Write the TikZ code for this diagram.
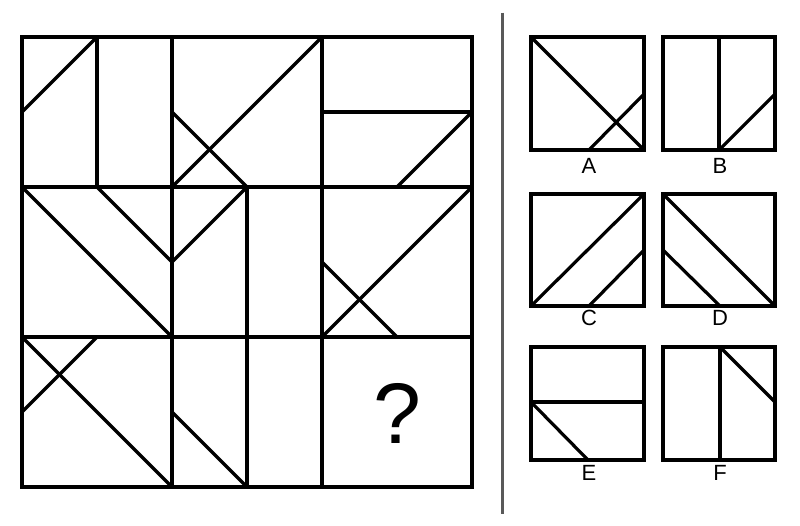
\documentclass[tikz,border=0pt]{standalone}
\usepackage{fontspec}
\setmainfont{Liberation Sans}
\begin{document}
\begin{tikzpicture}[x=1pt,y=-1pt,
  ln/.style={line width=3.2pt,black},
  sep/.style={line width=3pt,color=black!65},
  lbl/.style={inner sep=0pt,font=\fontsize{22}{22}\selectfont},
  qm/.style={inner sep=0pt,font=\fontsize{86}{86}\selectfont}]
\useasboundingbox (0,0) rectangle (800,525);
% main grid
\draw[ln] (22,37) rectangle (472,487);
\draw[ln] (172,37) -- (172,487) (322,37) -- (322,487);
\draw[ln] (22,187) -- (472,187) (22,337) -- (472,337);
% row 1
\draw[ln] (97,37) -- (22,112);
\draw[ln] (97,37) -- (97,187);
\draw[ln] (322,37) -- (172,187);
\draw[ln] (172,112) -- (247,187);
\draw[ln] (322,112) -- (472,112);
\draw[ln] (472,112) -- (397,187);
% row 2
\draw[ln] (22,187) -- (172,337);
\draw[ln] (97,187) -- (172,262) -- (247,187);
\draw[ln] (247,187) -- (247,487);
\draw[ln] (472,187) -- (322,337);
\draw[ln] (322,262) -- (397,337);
% row 3
\draw[ln] (22,337) -- (172,487);
\draw[ln] (97,337) -- (22,412);
\draw[ln] (172,412) -- (247,487);
\node[qm] (q) at (397,413) {?};
% separator
\coordinate (s1) at (502.5,12.5);
\coordinate (s2) at (502.5,514);
\draw[sep] (s1) -- (s2);
% option A
\draw[ln] (531,37) rectangle (644,150);
\draw[ln] (531,37) -- (644,150);
\draw[ln] (644,94) -- (589,150);
\node[lbl] (la) at (589,166) {A};
% option B
\draw[ln] (663,37) rectangle (775,150);
\draw[ln] (719,37) -- (719,150);
\draw[ln] (719,150) -- (775,94);
\node[lbl] (lb) at (720,166) {B};
% option C
\draw[ln] (531,194) rectangle (644,306);
\draw[ln] (531,306) -- (644,194);
\draw[ln] (589,306) -- (644,250);
\node[lbl] (lc) at (589,318) {C};
% option D
\draw[ln] (663,194) rectangle (775,306);
\draw[ln] (663,194) -- (775,306);
\draw[ln] (663,250) -- (720,306);
\node[lbl] (ld) at (720,318) {D};
% option E
\draw[ln] (531,347) rectangle (644,460);
\draw[ln] (531,402) -- (644,402);
\draw[ln] (531,402) -- (588,460);
\node[lbl] (le) at (589,473) {E};
% option F
\draw[ln] (663,347) rectangle (775,460);
\draw[ln] (720,347) -- (720,460);
\draw[ln] (720,347) -- (775,402);
\node[lbl] (lf) at (720,473) {F};
\end{tikzpicture}
\end{document}
